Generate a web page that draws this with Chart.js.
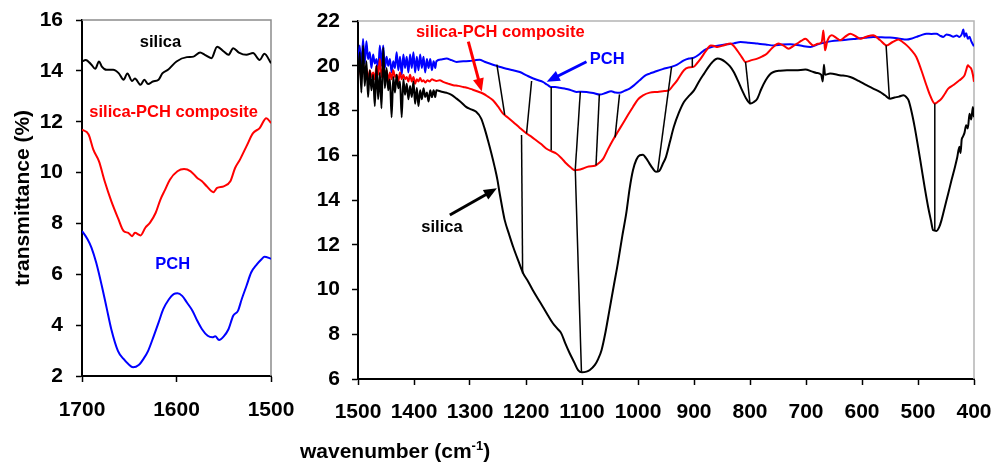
<!DOCTYPE html>
<html>
<head>
<meta charset="utf-8">
<script src="https://cdn.jsdelivr.net/npm/chart.js@4.4.0/dist/chart.umd.min.js"></script>
<style>
  body { margin: 0; background: #fff; }
  #wrap { position: relative; width: 993px; height: 463px; font-family: "Liberation Sans", Arial, sans-serif; }
  #wrap canvas { position: absolute; top: 0; }
  #xtitle { position: absolute; left: 300px; top: 439px; font-weight: bold; font-size: 21px; line-height: 1; white-space: nowrap; }
  #xtitle sup { font-size: 13px; }
</style>
</head>
<body>
<div id="wrap">
  <canvas id="left" width="300" height="463" style="left:0"></canvas>
  <canvas id="right" width="693" height="463" style="left:300px"></canvas>
  <div id="xtitle">wavenumber (cm<sup>-1</sup>)</div>
</div>
<script>
// FTIR spectra, transmittance (%) vs wavenumber (cm-1)

// left panel, 1700-1500
const silicaLeft = [[1700,14.37],[1696,14.43],[1690,14.24],[1686,14.08],[1682,14.37],[1679,14.17],[1674,14.04],[1667,14.04],[1661,13.9],[1656,13.65],[1652,13.9],[1647,13.6],[1644,13.7],[1638,13.45],[1634,13.65],[1630,13.48],[1625,13.58],[1619,13.65],[1615,13.9],[1609,14.04],[1600,14.37],[1589,14.54],[1582,14.56],[1575,14.72],[1570,14.63],[1563,14.5],[1557,14.95],[1550,14.76],[1545,14.63],[1540,14.89],[1534,14.72],[1526,14.63],[1519,14.7],[1512,14.43],[1507,14.67],[1500,14.3]];
const compositeLeft = [[1700,11.69],[1693,11.5],[1688,10.9],[1682,10.44],[1676,9.66],[1669,8.88],[1662,8.22],[1656,7.7],[1651,7.63],[1647,7.5],[1644,7.63],[1638,7.53],[1633,7.83],[1628,8.03],[1622,8.42],[1617,8.94],[1612,9.33],[1607,9.72],[1599,10.05],[1592,10.14],[1585,10.05],[1578,9.79],[1573,9.66],[1568,9.46],[1561,9.23],[1557,9.4],[1550,9.46],[1543,9.66],[1538,10.18],[1533,10.5],[1526,11.03],[1519,11.55],[1512,11.75],[1505,12.14],[1500,11.95]];
const pchLeft = [[1700,7.7],[1694,7.37],[1690,7.05],[1685,6.46],[1679,5.54],[1674,4.69],[1669,3.84],[1662,2.99],[1656,2.67],[1651,2.47],[1646,2.34],[1640,2.43],[1635,2.67],[1630,2.99],[1624,3.58],[1619,4.1],[1614,4.63],[1608,5.02],[1603,5.22],[1599,5.25],[1594,5.15],[1589,4.89],[1583,4.56],[1578,4.17],[1573,3.84],[1567,3.58],[1562,3.52],[1559,3.56],[1555,3.42],[1550,3.56],[1545,3.84],[1540,4.37],[1535,4.56],[1531,5.02],[1526,5.54],[1521,6.07],[1515,6.39],[1510,6.59],[1507,6.69],[1500,6.61]];

// right panel, 1500-400
const silicaRight = [[1500,19.3],[1497,20.6],[1494,18.8],[1491,20.9],[1488,19.1],[1485,20.2],[1482,18.6],[1479,19.8],[1476,18.9],[1473,19.6],[1470,18.2],[1467,20.0],[1464,18.5],[1461,19.7],[1458,18.1],[1455,20.8],[1452,19.0],[1449,19.9],[1446,18.9],[1443,19.4],[1440,17.7],[1437,19.5],[1434,18.8],[1431,19.6],[1428,19.0],[1425,19.3],[1422,17.7],[1419,19.4],[1416,18.7],[1413,19.2],[1410,18.5],[1407,19.1],[1404,18.6],[1401,19.3],[1398,18.3],[1395,19.0],[1392,18.2],[1389,18.9],[1386,18.5],[1383,19.0],[1380,18.6],[1377,18.8],[1374,18.4],[1371,18.9],[1368,18.6],[1365,18.9],[1362,18.6],[1360,18.9],
  [1352,18.85],[1342,18.79],[1333,18.7],[1324,18.53],[1315,18.35],[1307,18.16],[1298,18.05],[1289,17.94],[1280,17.64],[1274,17.2],[1268,16.67],[1262,16.1],[1256,15.48],[1251,14.9],[1247,14.29],[1242,13.6],[1238,13.1],[1230,12.45],[1223,11.91],[1214,11.3],[1205,10.72],[1196,10.35],[1188,9.98],[1179,9.6],[1170,9.23],[1161,8.85],[1152,8.49],[1144,8.25],[1137,8.04],[1130,7.6],[1122,7.15],[1114,6.75],[1107,6.4],[1100,6.3],[1092,6.33],[1086,6.4],[1077,6.63],[1071,6.9],[1065,7.3],[1058,8.1],[1051,9.08],[1043,10.2],[1036,11.17],[1028,12.4],[1021,13.4],[1015,14.5],[1009,15.33],[1003,15.8],[997,16.0],[991,16.02],[986,15.88],[980,15.65],[974,15.42],[968,15.26],[962,15.3],[956,15.6],[950,15.93],[943,16.6],[936,17.27],[927,17.9],[918,18.38],[909,18.65],[900,18.9],[891,19.3],[882,19.65],[874,19.95],[867,20.17],[858,20.32],[851,20.28],[844,20.17],[836,19.98],[829,19.72],[821,19.3],[814,18.9],[806,18.5],[799,18.31],[793,18.38],[787,18.53],[780,18.95],[772,19.35],[765,19.6],[758,19.72],[746,19.78],[734,19.8],[718,19.8],[701,19.83],[690,19.75],[681,19.68],[673,19.6],[670,19.3],[668,20.05],[666,19.6],[657,19.65],[640,19.58],[621,19.5],[606,19.32],[592,19.13],[580,18.98],[568,18.83],[559,18.68],[550,18.53],[542,18.58],[534,18.62],[526,18.68],[521,18.6],[517,18.46],[512,18.0],[506,17.27],[500,16.4],[494,15.48],[488,14.55],[482,13.7],[477,13.1],[473,12.65],[467,12.62],[462,12.8],[458,13.1],[452,13.7],[446,14.29],[440,14.9],[434,15.48],[430,15.9],[426,16.38],[424,16.1],[422,16.7],[420,16.82],[417,17.0],[414,17.34],[411,17.2],[408,17.86],[405,17.6],[402,18.16],[400,17.7]];
const compositeRight = [[1500,19.5],[1497,20.2],[1494,19.4],[1491,20.1],[1488,19.6],[1485,19.9],[1482,19.3],[1479,19.8],[1476,19.5],[1473,19.7],[1470,19.4],[1467,20.0],[1464,19.6],[1461,20.3],[1458,19.5],[1455,19.9],[1452,19.6],[1449,19.8],[1446,19.3],[1443,19.7],[1440,19.4],[1437,19.8],[1434,19.5],[1431,19.6],[1428,19.3],[1425,19.7],[1422,19.4],[1419,19.6],[1416,19.4],[1413,19.5],[1410,19.3],[1407,19.6],[1404,19.3],[1401,19.5],[1398,19.2],[1395,19.4],[1392,19.3],[1389,19.45],[1386,19.3],[1383,19.35],[1380,19.25],[1376,19.35],[1372,19.3],[1368,19.4],[1364,19.35],[1360,19.32],
  [1354,19.35],[1348,19.28],[1339,19.2],[1330,19.13],[1321,19.1],[1312,19.05],[1303,19.0],[1295,18.93],[1286,18.85],[1277,18.76],[1268,18.62],[1259,18.46],[1250,18.18],[1241,17.86],[1232,17.68],[1223,17.49],[1211,17.22],[1199,16.97],[1190,16.82],[1182,16.67],[1173,16.5],[1164,16.3],[1155,16.18],[1146,16.08],[1137,15.88],[1128,15.63],[1120,15.45],[1113,15.33],[1106,15.35],[1098,15.41],[1088,15.5],[1077,15.53],[1070,15.65],[1062,15.85],[1054,16.25],[1045,16.67],[1036,17.05],[1027,17.42],[1018,17.8],[1009,18.16],[1000,18.5],[991,18.68],[979,18.8],[965,18.83],[953,18.87],[945,18.9],[938,19.1],[930,19.35],[918,19.8],[910,19.92],[901,19.95],[895,20.1],[888,20.32],[879,20.65],[870,20.91],[864,20.88],[858,20.84],[846,20.92],[835,20.99],[829,20.88],[823,20.69],[815,20.4],[808,20.17],[797,20.25],[787,20.32],[778,20.42],[770,20.54],[760,20.8],[749,20.99],[740,20.9],[731,20.76],[723,20.88],[716,20.99],[708,21.12],[701,21.21],[694,21.05],[687,20.91],[679,20.98],[672,21.06],[670,21.4],[669,21.58],[667,21.0],[666,20.69],[662,21.1],[654,21.36],[646,21.25],[639,21.14],[630,21.3],[621,21.43],[612,21.33],[603,21.21],[592,21.3],[580,21.36],[568,21.15],[556,20.91],[546,21.05],[535,21.17],[527,21.05],[520,20.91],[512,20.7],[503,20.39],[494,19.8],[485,19.13],[478,18.65],[470,18.31],[464,18.4],[458,18.53],[452,18.75],[446,18.98],[436,19.15],[426,19.35],[421,19.45],[417,19.57],[414,19.8],[411,20.02],[408,19.95],[405,19.87],[402,19.6],[400,19.28]];
const pchRight = [[1500,20.0],[1497,20.9],[1494,19.8],[1491,21.2],[1488,20.1],[1485,21.1],[1482,20.3],[1479,20.6],[1476,19.9],[1473,20.5],[1470,20.1],[1467,20.3],[1464,19.8],[1461,20.9],[1458,20.0],[1455,20.9],[1452,19.9],[1449,20.4],[1446,20.0],[1443,20.3],[1440,19.7],[1437,20.2],[1434,19.9],[1431,20.6],[1428,19.8],[1425,20.4],[1422,19.6],[1419,20.5],[1416,19.9],[1413,20.4],[1410,19.7],[1407,20.5],[1404,19.9],[1401,20.6],[1398,19.7],[1395,20.4],[1392,19.8],[1389,20.5],[1386,19.9],[1383,20.4],[1380,19.7],[1377,20.3],[1374,19.9],[1371,20.3],[1368,19.8],[1365,20.2],[1362,19.9],[1360,20.2],
  [1351,20.28],[1342,20.32],[1333,20.25],[1324,20.17],[1312,20.2],[1301,20.21],[1292,20.24],[1283,20.27],[1274,20.18],[1265,20.1],[1253,20.0],[1244,19.93],[1235,19.87],[1223,19.8],[1211,19.72],[1199,19.57],[1187,19.43],[1178,19.35],[1170,19.28],[1162,19.15],[1155,19.05],[1148,19.05],[1140,19.02],[1131,18.98],[1122,18.93],[1110,18.83],[1101,18.84],[1092,18.83],[1080,18.78],[1068,18.71],[1058,18.78],[1048,18.86],[1040,18.8],[1033,18.79],[1024,18.88],[1015,18.98],[1006,19.15],[997,19.35],[988,19.55],[979,19.65],[971,19.72],[956,19.85],[941,19.95],[930,20.05],[918,20.24],[909,20.32],[900,20.36],[891,20.5],[882,20.69],[873,20.8],[864,20.87],[852,20.92],[841,20.96],[829,21.0],[817,21.06],[802,21.03],[787,20.99],[772,20.95],[758,20.91],[743,20.95],[728,20.96],[710,20.9],[692,20.84],[680,20.95],[669,21.02],[654,21.1],[639,21.14],[625,21.17],[610,21.21],[595,21.25],[580,21.29],[565,21.27],[550,21.26],[535,21.22],[520,21.17],[511,21.22],[503,21.29],[494,21.37],[485,21.43],[476,21.42],[467,21.43],[461,21.35],[455,21.29],[449,21.4],[443,21.36],[437,21.3],[431,21.35],[426,21.29],[422,21.4],[419,21.62],[417,21.3],[414,21.45],[411,21.21],[408,21.3],[405,21.1],[400,20.87]];

// thin black lines tying the bands together (right panel)
const bandLinks = [
  [[1252,20.05],[1238,17.8]],
  [[1190,19.32],[1199,16.97]],
  [[1208,16.9],[1206,10.72]],
  [[1155,19.05],[1155,16.22]],
  [[1103,18.84],[1112,15.36]],
  [[1112,15.36],[1101,6.32]],
  [[1069,18.72],[1075,15.55]],
  [[1033,18.72],[1041,16.8]],
  [[940,19.96],[965,15.28]],
  [[903,20.36],[903,19.93]],
  [[808,20.17],[800,18.31]],
  [[557,20.91],[551,18.53]],
  [[470,18.31],[470,12.63]]
];

// curve names and where they sit
const leftNotes = [
  { text: 'silica', at: [1617, 15.1], color: '#000000' },
  { text: 'silica-PCH composite', at: [1603, 12.35], color: '#ff0000' },
  { text: 'PCH', at: [1604, 6.4], color: '#0000ff' }
];
const rightNotes = [
  { text: 'silica-PCH composite', at: [1246, 21.5], color: '#ff0000' },
  { text: 'PCH', at: [1055, 20.3], color: '#0000ff' },
  { text: 'silica', at: [1350, 12.76], color: '#000000' }
];
const rightArrows = [
  { from: [1303, 21.08], to: [1279, 18.85], color: '#ff0000' },
  { from: [1092, 20.18], to: [1163, 19.29], color: '#0000ff' },
  { from: [1336, 13.33], to: [1252, 14.52], color: '#000000' }
];

const FONT = '"Liberation Sans", Arial, sans-serif';
Chart.defaults.font.family = FONT;
Chart.defaults.color = '#000';

const toXY = arr => arr.map(p => ({ x: p[0], y: p[1] }));

function curve(arr, color) {
  return { data: toXY(arr), borderColor: color, borderWidth: 2, pointRadius: 0,
           cubicInterpolationMode: 'monotone', fill: false };
}

// labels, arrows and the grey frame on top/right
const notesPlugin = {
  id: 'notes',
  beforeDatasetsDraw(chart, args, opts) {
    const { ctx, chartArea: a } = chart;
    ctx.save();
    ctx.strokeStyle = opts.frame;
    ctx.lineWidth = 1.5;
    ctx.beginPath();
    ctx.moveTo(a.left, a.top);
    ctx.lineTo(a.right, a.top);
    ctx.lineTo(a.right, a.bottom);
    ctx.stroke();
    ctx.restore();
  },
  afterDatasetsDraw(chart, args, opts) {
    const { ctx } = chart;
    const xs = chart.scales.x, ys = chart.scales.y;
    ctx.save();
    ctx.font = 'bold 16.5px ' + FONT;
    ctx.textAlign = 'center';
    ctx.textBaseline = 'middle';
    (opts.notes || []).forEach(n => {
      ctx.fillStyle = n.color;
      ctx.fillText(n.text, xs.getPixelForValue(n.at[0]), ys.getPixelForValue(n.at[1]));
    });
    (opts.arrows || []).forEach(ar => {
      const x1 = xs.getPixelForValue(ar.from[0]), y1 = ys.getPixelForValue(ar.from[1]);
      const x2 = xs.getPixelForValue(ar.to[0]), y2 = ys.getPixelForValue(ar.to[1]);
      const ang = Math.atan2(y2 - y1, x2 - x1);
      const head = 13;
      ctx.strokeStyle = ar.color;
      ctx.fillStyle = ar.color;
      ctx.lineWidth = 3;
      ctx.beginPath();
      ctx.moveTo(x1, y1);
      ctx.lineTo(x2 - head * 0.8 * Math.cos(ang), y2 - head * 0.8 * Math.sin(ang));
      ctx.stroke();
      ctx.beginPath();
      ctx.moveTo(x2, y2);
      ctx.lineTo(x2 - head * Math.cos(ang) + 5.5 * Math.sin(ang), y2 - head * Math.sin(ang) - 5.5 * Math.cos(ang));
      ctx.lineTo(x2 - head * Math.cos(ang) - 5.5 * Math.sin(ang), y2 - head * Math.sin(ang) + 5.5 * Math.cos(ang));
      ctx.closePath();
      ctx.fill();
    });
    ctx.restore();
  }
};

function axes(xmin, xmax, ymin, ymax, yWidth, xHeight, yPad, xPad, yTitle) {
  const tickFont = { size: 21, weight: 'bold' };
  return {
    x: {
      type: 'linear', reverse: true, min: xmin, max: xmax,
      ticks: { stepSize: 100, font: tickFont, color: '#000', padding: xPad, maxRotation: 0,
               callback: v => String(v) },
      grid: { drawOnChartArea: false, tickLength: 6, tickWidth: 1.5, color: '#000' },
      border: { color: '#000', width: 2 },
      afterFit: s => { s.height = xHeight; s.paddingLeft = 0; s.paddingRight = 0; }
    },
    y: {
      min: ymin, max: ymax,
      ticks: { stepSize: 2, font: tickFont, color: '#000', padding: yPad },
      grid: { drawOnChartArea: false, tickLength: 6, tickWidth: 1.5, color: '#000' },
      border: { color: '#000', width: 2 },
      title: yTitle ? { display: true, text: yTitle, color: '#000',
                        font: { size: 21, weight: 'bold' }, padding: { top: 11, bottom: 0 } }
                    : { display: false },
      afterFit: s => { s.width = yWidth; s.paddingTop = 0; s.paddingBottom = 0; }
    }
  };
}

new Chart(document.getElementById('left'), {
  type: 'line',
  data: { datasets: [
    curve(silicaLeft, '#000000'),
    curve(compositeLeft, '#ff0000'),
    curve(pchLeft, '#0000ff')
  ] },
  options: {
    responsive: false, animation: false,
    layout: { padding: { top: 20, right: 29, left: 0, bottom: 0 } },
    plugins: { legend: { display: false }, tooltip: { enabled: false },
               notes: { notes: leftNotes, frame: '#8c8c8c' } },
    scales: axes(1500, 1700, 2, 16, 82, 87, 13, 16, 'transmittance (%)')
  },
  plugins: [notesPlugin]
});

const linkSets = bandLinks.map(l => ({
  data: toXY(l), borderColor: '#000', borderWidth: 1.5, pointRadius: 0, tension: 0, fill: false
}));

new Chart(document.getElementById('right'), {
  type: 'line',
  data: { datasets: [
    ...linkSets,
    curve(silicaRight, '#000000'),
    curve(compositeRight, '#ff0000'),
    curve(pchRight, '#0000ff')
  ] },
  options: {
    responsive: false, animation: false,
    layout: { padding: { top: 21, right: 19, left: 0, bottom: 0 } },
    plugins: { legend: { display: false }, tooltip: { enabled: false },
               notes: { notes: rightNotes, arrows: rightArrows, frame: '#b4b4b4' } },
    scales: axes(400, 1500, 6, 22, 58, 84, 12, 15, null)
  },
  plugins: [notesPlugin]
});
</script>
</body>
</html>
